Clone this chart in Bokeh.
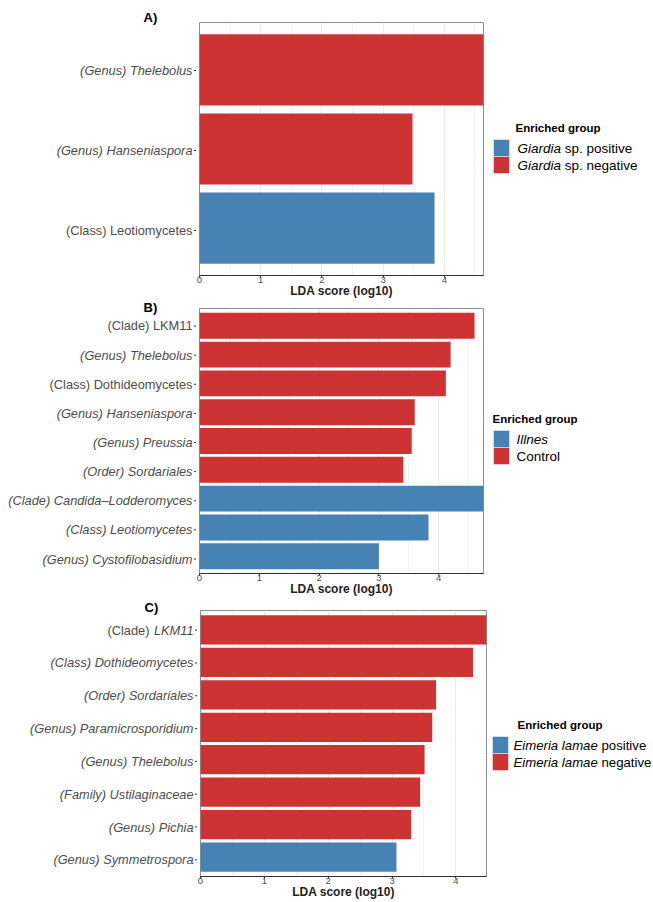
from bokeh.plotting import figure
from bokeh.models import Range1d, FixedTicker, ColumnDataSource
from bokeh.layouts import column, row
from bokeh.embed import file_html
from bokeh.resources import INLINE
from bokeh.core.properties import value

# ---------------- data ----------------
A_taxa = ["(Genus) Thelebolus", "(Genus) Hanseniaspora", "(Class) Leotiomycetes"]
A_lda = [4.64, 3.48, 3.84]
A_group = ["negative", "negative", "positive"]
A_italic = ["all", "all", "none"]

B_taxa = ["(Clade) LKM11", "(Genus) Thelebolus", "(Class) Dothideomycetes",
          "(Genus) Hanseniaspora", "(Genus) Preussia", "(Order) Sordariales",
          "(Clade) Candida\u2013Lodderomyces", "(Class) Leotiomycetes",
          "(Genus) Cystofilobasidium"]
B_lda = [4.60, 4.20, 4.12, 3.60, 3.55, 3.41, 4.75, 3.83, 3.00]
B_group = ["negative"] * 6 + ["positive"] * 3
B_italic = ["none", "all", "none", "all", "all", "all", "all", "all", "all"]

C_taxa = ["(Clade) LKM11", "(Class) Dothideomycetes", "(Order) Sordariales",
          "(Genus) Paramicrosporidium", "(Genus) Thelebolus",
          "(Family) Ustilaginaceae", "(Genus) Pichia", "(Genus) Symmetrospora"]
C_lda = [4.48, 4.27, 3.69, 3.63, 3.51, 3.44, 3.30, 3.07]
C_group = ["negative"] * 7 + ["positive"]
C_italic = ["name", "all", "all", "all", "all", "all", "all", "all"]

# legend entries: (italic part, plain part) for positive, negative
A_legend = [("Giardia", "sp. positive"), ("Giardia", "sp. negative")]
B_legend = [("Illnes", ""), ("", "Control")]
C_legend = [("Eimeria lamae", "positive"), ("Eimeria lamae", "negative")]
legend_title = "Enriched group"
x_title = "LDA score (log10)"

x_ticks = [0, 1, 2, 3, 4]
x_minor = [0.5, 1.5, 2.5, 3.5, 4.5]

# ---------------- style ----------------
RED = "#CD3333"
BLUE = "#4682B4"
COLORS = {"positive": BLUE, "negative": RED}
FONT = "Liberation Sans"
LAB_FS = 12.8
GREY = "#4D4D4D"

HW = {' ': 278, '(': 333, ')': 333, '.': 278, '\u2013': 556,
      'A': 667, 'B': 667, 'C': 722, 'D': 722, 'E': 667, 'F': 611, 'G': 778, 'H': 722,
      'I': 278, 'J': 500, 'K': 667, 'L': 556, 'M': 833, 'N': 722, 'O': 778, 'P': 667,
      'Q': 778, 'R': 722, 'S': 667, 'T': 611, 'U': 722, 'V': 667, 'W': 944, 'X': 667,
      'Y': 667, 'Z': 611,
      'a': 556, 'b': 556, 'c': 500, 'd': 556, 'e': 556, 'f': 278, 'g': 556, 'h': 556,
      'i': 222, 'j': 222, 'k': 500, 'l': 222, 'm': 833, 'n': 556, 'o': 556, 'p': 556,
      'q': 556, 'r': 333, 's': 500, 't': 278, 'u': 556, 'v': 500, 'w': 722, 'x': 500,
      'y': 500, 'z': 500}


def tw(s, fs):
    return sum(HW.get(ch, 556) for ch in s) / 1000.0 * fs


TOTAL_W = 653


def side_fig(w, h, xr, yr):
    f = figure(width=w, height=h, x_range=xr, y_range=yr, toolbar_location=None,
               output_backend="svg", min_border=0, x_axis_type=None, y_axis_type=None,
               frame_align=False)
    f.outline_line_color = None
    f.grid.visible = False
    f.background_fill_color = "white"
    f.border_fill_color = "white"
    return f


def make_panel(letter, taxa, lda, groups, italic, legend, H, T, F, Bb,
               left_w, frame_w, right_b, letter_up, leg, leg_fs):
    n = len(taxa)
    ys = [n - i for i in range(n)]
    xmax = max(lda)
    ppu = F / (n + 0.2)
    main_w = 3 + frame_w + right_b
    leg_w = TOTAL_W - left_w - main_w

    # ---------- main plot ----------
    p = figure(width=main_w, height=H, x_range=Range1d(0, xmax),
               y_range=Range1d(0.4, n + 0.6), toolbar_location=None,
               output_backend="svg", y_axis_type=None,
               min_border_top=T, min_border_bottom=Bb,
               min_border_left=3, min_border_right=right_b)
    p.background_fill_color = "white"
    p.border_fill_color = "white"
    p.outline_line_color = "#8f8f8f"
    p.outline_line_width = 1

    src = ColumnDataSource(dict(y=ys, lda=lda, color=[COLORS[g] for g in groups]))
    p.hbar(y="y", left=0, right="lda", height=0.9, fill_color="color",
           line_color=None, source=src)

    xa = p.xaxis[0]
    xa.ticker = FixedTicker(ticks=x_ticks, minor_ticks=x_minor)
    xa.axis_line_color = "#333333"
    xa.major_tick_line_color = "#333333"
    xa.major_tick_out = 2
    xa.major_tick_in = 0
    xa.minor_tick_out = 0
    xa.minor_tick_in = 0
    xa.major_label_standoff = -1
    xa.major_label_text_font = FONT
    xa.major_label_text_font_size = "9.5px"
    xa.major_label_text_color = GREY
    xa.axis_label = x_title
    xa.axis_label_standoff = -2
    xa.axis_label_text_font = FONT
    xa.axis_label_text_font_size = "12px"
    xa.axis_label_text_font_style = "bold"
    xa.axis_label_text_color = "#222222"

    p.xgrid.grid_line_color = "#EBEBEB"
    p.xgrid.minor_grid_line_color = "#F3F3F3"
    p.ygrid.ticker = FixedTicker(ticks=ys)
    p.ygrid.grid_line_color = "#EBEBEB"

    # ---------- left label panel (same y scale, extended over the borders) ----------
    lf = side_fig(left_w, H, Range1d(-(left_w + 3), -3),
                  Range1d(0.4 - Bb / ppu, n + 0.6 + T / ppu))
    lf.segment(x0=[-5.5] * n, x1=[-3] * n, y0=ys, y1=ys, line_color="#333333", line_width=1)

    it = dict(x=[], y=[], t=[])
    nm = dict(x=[], y=[], t=[])
    for t, st, yv in zip(taxa, italic, ys):
        if st == "name":
            pre, name = t.split(") ", 1)
            it["x"].append(-7); it["y"].append(yv); it["t"].append(name)
            nm["x"].append(-7 - tw(name, LAB_FS) - tw(" ", LAB_FS)); nm["y"].append(yv)
            nm["t"].append(pre + ")")
        elif st == "all":
            it["x"].append(-7); it["y"].append(yv); it["t"].append(t)
        else:
            nm["x"].append(-7); nm["y"].append(yv); nm["t"].append(t)
    for d, style in ((it, "italic"), (nm, "normal")):
        if d["t"]:
            lf.text(x=d["x"], y=d["y"], text=d["t"], text_align="right",
                    text_baseline="middle", text_font=value(FONT),
                    text_font_size=f"{LAB_FS}px", text_font_style=style, text_color=GREY)
    lf.text(x=[-56], y=[n + 0.6 + letter_up / ppu], text=[letter], text_align="left",
            text_baseline="middle", text_font=value(FONT), text_font_size="13px",
            text_font_style="bold", text_color="black")

    # ---------- legend panel (pixel coordinates, y downward) ----------
    lg = side_fig(leg_w, H, Range1d(0, leg_w), Range1d(H, 0))
    title_x, title_y, sw_x, sw_top, sw_h, txt_x = leg
    lg.text(x=[title_x], y=[title_y], text=[legend_title], text_font=value(FONT),
            text_font_size="11.5px", text_font_style="bold", text_color="black",
            text_baseline="middle", text_align="left")
    cols = [COLORS["positive"], COLORS["negative"]]
    tops = [sw_top + k * sw_h for k in range(2)]
    lg.quad(left=[sw_x] * 2, right=[sw_x + 16] * 2, top=tops, bottom=[t + sw_h for t in tops],
            fill_color=cols, line_color="white", line_width=0.5)
    li = dict(x=[], y=[], t=[])
    lp = dict(x=[], y=[], t=[])
    for k, (ipart, ppart) in enumerate(legend):
        yc = tops[k] + sw_h / 2
        if ipart:
            li["x"].append(txt_x); li["y"].append(yc); li["t"].append(ipart)
        if ppart:
            off = tw(ipart, leg_fs) + tw(" ", leg_fs) if ipart else 0
            lp["x"].append(txt_x + off); lp["y"].append(yc); lp["t"].append(ppart)
    for d, style in ((li, "italic"), (lp, "normal")):
        if d["t"]:
            lg.text(x=d["x"], y=d["y"], text=d["t"], text_font=value(FONT),
                    text_font_size=f"{leg_fs}px", text_font_style=style,
                    text_color="black", text_baseline="middle")
    return row(lf, p, lg, spacing=0)


rA = make_panel("A)", A_taxa, A_lda, A_group, A_italic, A_legend,
                H=300, T=22, F=256, Bb=22, left_w=196, frame_w=284, right_b=3,
                letter_up=5, leg=(29, 127, 7, 139, 17, 31), leg_fs=13.5)
rB = make_panel("B)", B_taxa, B_lda, B_group, B_italic, B_legend,
                H=298, T=8, F=268, Bb=22, left_w=196, frame_w=284, right_b=3,
                letter_up=1, leg=(6, 118, 7, 130, 17, 30), leg_fs=13.5)
rC = make_panel("C)", C_taxa, C_lda, C_group, C_italic, C_legend,
                H=303, T=12, F=269, Bb=22, left_w=197, frame_w=286, right_b=2,
                letter_up=3, leg=(29, 126, 4, 138, 17, 25), leg_fs=13.2)

layout = column(rA, rB, rC, spacing=0)
open("out.html", "w").write(file_html(layout, INLINE))
